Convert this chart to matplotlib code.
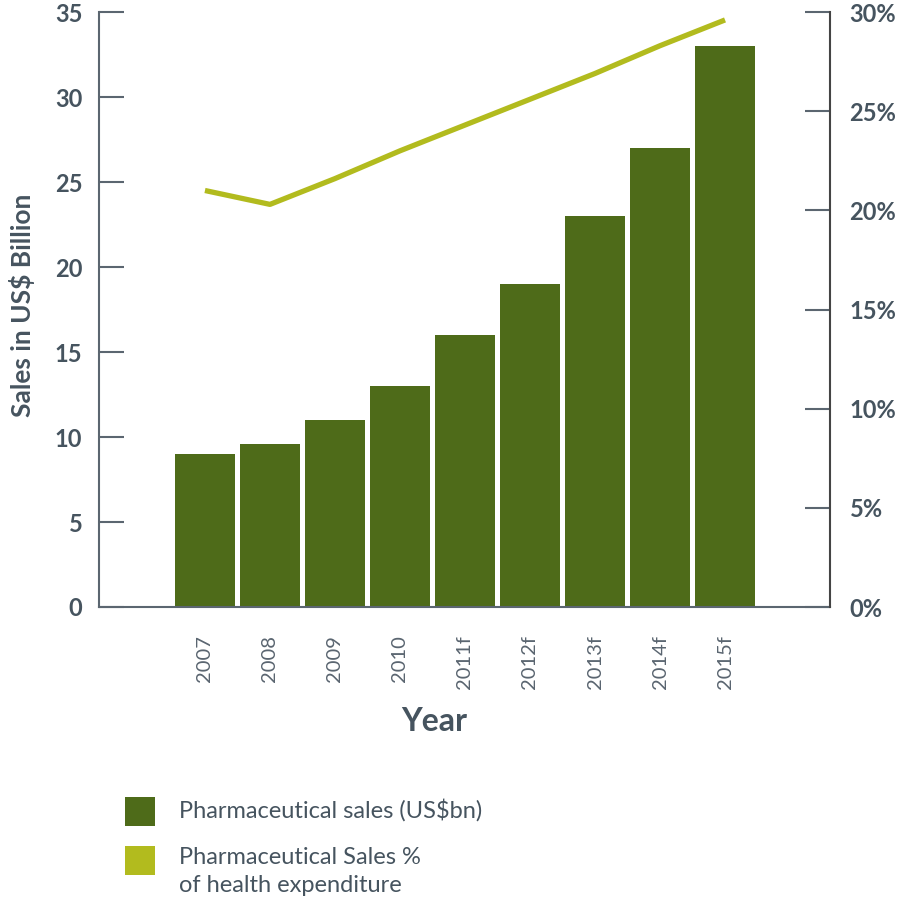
import matplotlib
matplotlib.use("Agg")
import matplotlib.pyplot as plt
from matplotlib.patches import Rectangle
import numpy as np

years = ["2007", "2008", "2009", "2010", "2011f", "2012f", "2013f", "2014f", "2015f"]
sales_bn = [9.0, 9.6, 11.0, 13.0, 16.0, 19.0, 23.0, 27.0, 33.0]
share_pct = [21.0, 20.3, 21.6, 23.0, 24.3, 25.6, 26.9, 28.3, 29.6]
left_ticks = [0, 5, 10, 15, 20, 25, 30, 35]
right_ticks = [0, 5, 10, 15, 20, 25, 30]
legend_labels = ["Pharmaceutical sales (US$bn)", "Pharmaceutical Sales %\nof health expenditure"]

DARK = "#4e6b19"
LIME = "#b2bb1e"
TXT = "#46545f"
AX = "#5b6670"

plt.rcParams["font.family"] = ["Lato", "DejaVu Sans"]

W = 897
fig = plt.figure(figsize=(8.97, 8.97), dpi=100)
ax = fig.add_axes([99/W, 1-607/W, (830-99)/W, (607-12)/W])
x = np.arange(len(years))
ax.bar(x, sales_bn, width=0.91, color=DARK, zorder=2)
ax.set_xlim(-1.63, 8 + 1.615)
ax.set_ylim(0, 35)
ax.set_yticks(left_ticks)
ax.set_yticklabels([str(t) for t in left_ticks])
ax.tick_params(axis="y", direction="in", length=18, width=1.5, color=AX,
               labelsize=17, labelcolor=TXT, pad=12)
for t in ax.get_yticklabels():
    t.set_fontweight("bold")
ax.set_xticks(x)
ax.set_xticklabels(years, rotation=90, fontsize=14.5, color="#5a6570")
ax.tick_params(axis="x", length=0, pad=20)
for s in ["top", "right"]:
    ax.spines[s].set_visible(False)
ax.spines["left"].set_color(AX)
ax.spines["left"].set_linewidth(1.5)
ax.spines["bottom"].set_color(AX)
ax.spines["bottom"].set_linewidth(1.5)
ax.set_ylabel("Sales in US$ Billion", fontsize=19, color=TXT, fontweight="bold")
ax.yaxis.set_label_coords((35-99)/731, (607-305)/595)
ax.set_xlabel("Year", fontsize=23, color=TXT, fontweight="bold")
ax.xaxis.set_label_coords((434-99)/731, -(707-607)/595)

ax2 = ax.twinx()
ax2.plot(x, share_pct, color=LIME, linewidth=3.8, solid_capstyle="butt", zorder=3)
ax2.set_ylim(0, 30)
ax2.set_yticks(right_ticks)
ax2.set_yticklabels([f"{t}%" for t in right_ticks])
ax2.tick_params(axis="y", direction="in", length=18, width=1.5, color=AX,
                labelsize=17, labelcolor=TXT, pad=14)
for t in ax2.get_yticklabels():
    t.set_fontweight("bold")
for s in ["top", "left", "bottom"]:
    ax2.spines[s].set_visible(False)
ax2.spines["right"].set_color("#444444")
ax2.spines["right"].set_linewidth(1.5)

# legend swatches and labels
for (ytop, col, lab, ty) in [(797, DARK, legend_labels[0], 812), (846, LIME, legend_labels[1], 860)]:
    fig.add_artist(Rectangle((125/W, 1-(ytop+29)/W), 30/W, 29/W, transform=fig.transFigure,
                             facecolor=col, edgecolor="none"))
    fig.text(179/W, 1-(ty-13)/W, lab, fontsize=17, color=TXT, va="top", ha="left",
             linespacing=1.4)

fig.savefig("out.png", dpi=100)
